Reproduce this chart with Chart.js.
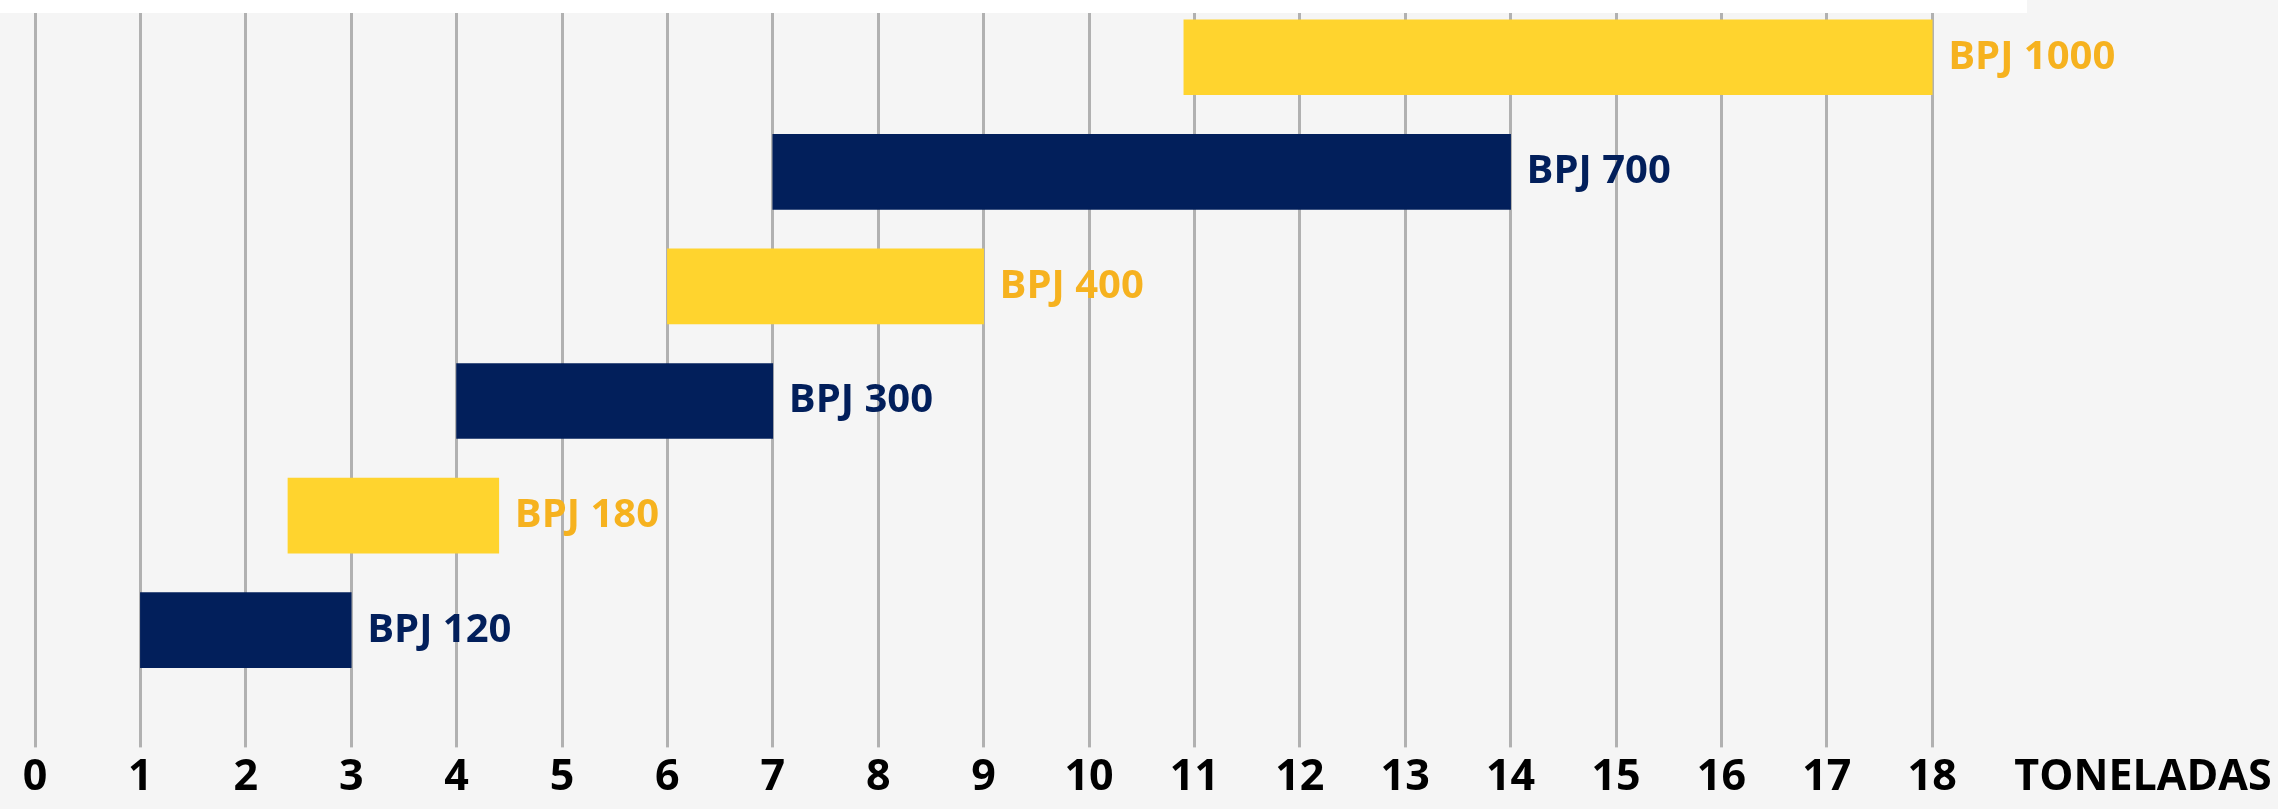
<!DOCTYPE html>
<html>
<head>
<meta charset="utf-8">
<script src="https://cdn.jsdelivr.net/npm/chart.js@4"></script>
<style>
  html, body { margin: 0; padding: 0; background: #f5f5f5; }
  #wrap { width: 2278px; height: 809px; position: relative; }
</style>
</head>
<body>
<div id="wrap"><canvas id="capacityChart"></canvas></div>
<script>
// Capacity range per model (tons)
const models = ['BPJ 1000', 'BPJ 700', 'BPJ 400', 'BPJ 300', 'BPJ 180', 'BPJ 120'];
const minTons = [10.9, 7, 6, 4, 2.4, 1];
const maxTons = [18, 14, 9, 7, 4.4, 3];
const lastTick = 18;
const unitLabel = 'TONELADAS';

const yellow = '#ffd42e';
const yellowText = '#f6b21f';
const navy = '#021f5b';
const barColors = models.map((m, i) => i % 2 === 0 ? yellow : navy);
const textColors = models.map((m, i) => i % 2 === 0 ? yellowText : navy);

const backdrop = {
  id: 'backdrop',
  beforeDraw(chart) {
    const ctx = chart.ctx;
    ctx.save();
    ctx.fillStyle = '#f5f5f5';
    ctx.fillRect(0, 0, chart.width, chart.height);
    ctx.restore();
  },
  beforeDatasetsDraw(chart) {
    // white strip over the top of the grid
    const ctx = chart.ctx;
    ctx.save();
    ctx.fillStyle = '#ffffff';
    ctx.fillRect(0, 0, 2027, 13);
    ctx.restore();
  }
};

const barLabels = {
  id: 'barLabels',
  afterDatasetsDraw(chart) {
    const ctx = chart.ctx;
    const meta = chart.getDatasetMeta(0);
    ctx.save();
    ctx.font = "bold 40px 'Open Sans'";
    ctx.textBaseline = 'middle';
    ctx.textAlign = 'left';
    meta.data.forEach((bar, i) => {
      ctx.fillStyle = textColors[i];
      ctx.fillText(models[i], bar.x + 16, bar.y);
    });
    ctx.restore();
  }
};

const el = document.getElementById('capacityChart');
new Chart(el, {
  type: 'bar',
  data: {
    labels: models,
    datasets: [{
      data: models.map((m, i) => [minTons[i], maxTons[i]]),
      backgroundColor: barColors,
      borderWidth: 0,
      barThickness: 75
    }]
  },
  options: {
    indexAxis: 'y',
    responsive: true,
    maintainAspectRatio: false,
    animation: false,
    layout: { padding: { left: 35, right: 135, top: 0, bottom: 0 } },
    plugins: { legend: { display: false }, tooltip: { enabled: false } },
    scales: {
      y: { display: false },
      x: {
        type: 'linear',
        min: 0,
        max: lastTick + 2,
        border: { display: false },
        grid: {
          color: ctx => ctx.tick && ctx.tick.value <= lastTick ? '#b1b1b1' : 'rgba(0,0,0,0)',
          lineWidth: 3,
          tickLength: 60,
          drawTicks: true
        },
        ticks: {
          stepSize: 1,
          padding: 5,
          color: '#000000',
          maxRotation: 0,
          autoSkip: false,
          font: { family: "'Open Sans'", weight: 'bold', size: 43 },
          callback: v => v <= lastTick ? String(v) : (v === lastTick + 2 ? unitLabel : '')
        }
      }
    }
  },
  plugins: [backdrop, barLabels]
});
</script>
</body>
</html>
